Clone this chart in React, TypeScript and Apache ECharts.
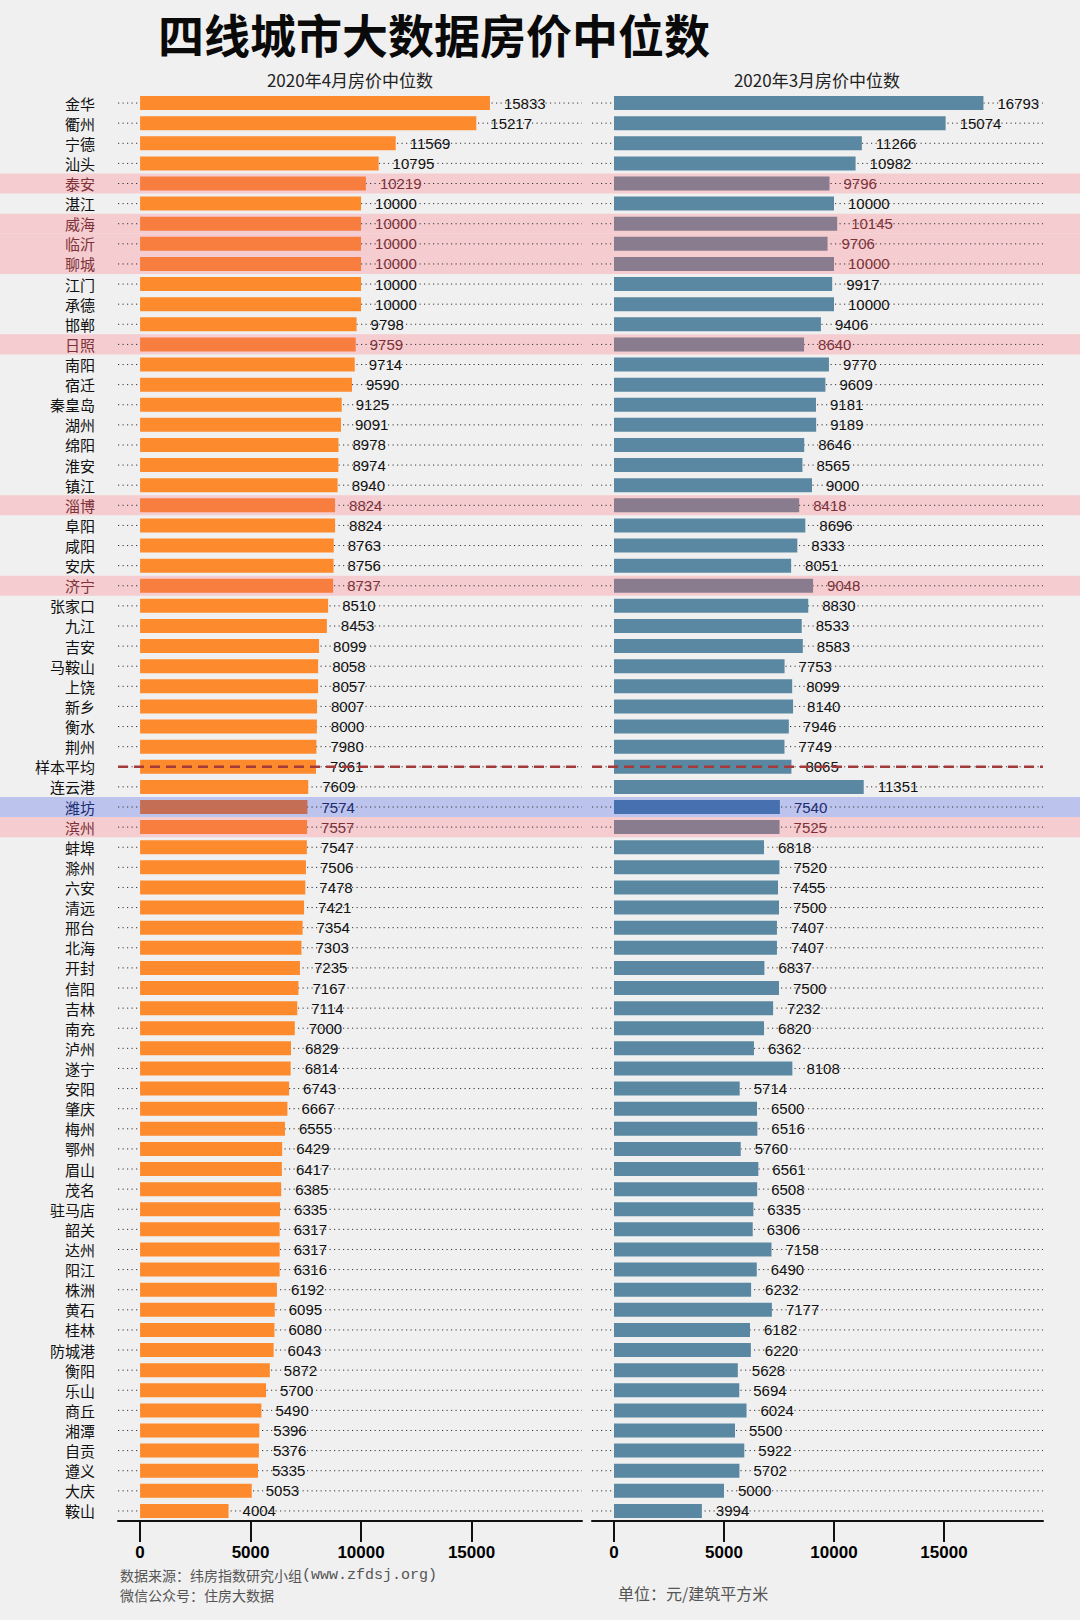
import React, { useEffect, useRef } from "react";
import * as echarts from "echarts";

const categories = [
  "金华", "衢州", "宁德", "汕头", "泰安", "湛江", "威海", "临沂", "聊城", "江门",
  "承德", "邯郸", "日照", "南阳", "宿迁", "秦皇岛", "湖州", "绵阳", "淮安", "镇江",
  "淄博", "阜阳", "咸阳", "安庆", "济宁", "张家口", "九江", "吉安", "马鞍山", "上饶",
  "新乡", "衡水", "荆州", "样本平均", "连云港", "潍坊", "滨州", "蚌埠", "滁州", "六安",
  "清远", "邢台", "北海", "开封", "信阳", "吉林", "南充", "泸州", "遂宁", "安阳",
  "肇庆", "梅州", "鄂州", "眉山", "茂名", "驻马店", "韶关", "达州", "阳江", "株洲",
  "黄石", "桂林", "防城港", "衡阳", "乐山", "商丘", "湘潭", "自贡", "遵义", "大庆",
  "鞍山",
];

const aprilValues = [
  15833, 15217, 11569, 10795, 10219, 10000, 10000, 10000, 10000, 10000,
  10000, 9798, 9759, 9714, 9590, 9125, 9091, 8978, 8974, 8940,
  8824, 8824, 8763, 8756, 8737, 8510, 8453, 8099, 8058, 8057,
  8007, 8000, 7980, 7961, 7609, 7574, 7557, 7547, 7506, 7478,
  7421, 7354, 7303, 7235, 7167, 7114, 7000, 6829, 6814, 6743,
  6667, 6555, 6429, 6417, 6385, 6335, 6317, 6317, 6316, 6192,
  6095, 6080, 6043, 5872, 5700, 5490, 5396, 5376, 5335, 5053,
  4004,
];

const marchValues = [
  16793, 15074, 11266, 10982, 9796, 10000, 10145, 9706, 10000, 9917,
  10000, 9406, 8640, 9770, 9609, 9181, 9189, 8646, 8565, 9000,
  8418, 8696, 8333, 8051, 9048, 8830, 8533, 8583, 7753, 8099,
  8140, 7946, 7749, 8065, 11351, 7540, 7525, 6818, 7520, 7455,
  7500, 7407, 7407, 6837, 7500, 7232, 6820, 6362, 8108, 5714,
  6500, 6516, 5760, 6561, 6508, 6335, 6306, 7158, 6490, 6232,
  7177, 6182, 6220, 5628, 5694, 6024, 5500, 5922, 5702, 5000,
  3994,
];

const pinkCities = ["泰安", "威海", "临沂", "聊城", "日照", "淄博", "济宁", "滨州"];
const blueCities = ["潍坊"];
const averageLabel = "样本平均";
const xTickValues = [0, 5000, 10000, 15000];

const titleText = "四线城市大数据房价中位数";
const leftTitle = "2020年4月房价中位数";
const rightTitle = "2020年3月房价中位数";
const sourceText = "数据来源：纬房指数研究小组";
const sourceUrl = "(www.zfdsj.org)";
const wechatText = "微信公众号：住房大数据";
const unitText = "单位：元/建筑平方米";

const LEFT_MIN = -1000;
const LEFT_MAX = 20000;
const RIGHT_MIN = -1000;
const RIGHT_MAX = 19500;

const C = {
  bg: "#F0F0F0",
  orange: "#FD8A2D",
  orangePink: "#F77E3F",
  orangeBlue: "#C46E55",
  steel: "#5A88A2",
  steelPink: "#897C8E",
  steelBlue: "#4670B0",
  pinkBand: "#F5CCD0",
  blueBand: "#BCC4EE",
  pinkText: "#7E3238",
  blueText: "#1E2C72",
  avgLine: "#A63A3A",
};

const SANS = "'Liberation Sans', Arial, 'Noto Sans CJK SC', sans-serif";
const CJK = "'Noto Sans CJK SC', 'Noto Sans', sans-serif";
const MONO = "'Liberation Mono', 'DejaVu Sans Mono', monospace";

function kindOf(name: string): number {
  if (pinkCities.includes(name)) return 0;
  if (blueCities.includes(name)) return 1;
  return -1;
}

function barData(values: number[], side: "left" | "right") {
  return values.map((v, i) => {
    const k = kindOf(categories[i]);
    if (k < 0) return v;
    const color =
      side === "left"
        ? k === 0 ? C.orangePink : C.orangeBlue
        : k === 0 ? C.steelPink : C.steelBlue;
    return {
      value: v,
      itemStyle: { color },
      label: { color: k === 0 ? C.pinkText : C.blueText },
    };
  });
}

const rowLine = (xMin: number, xMax: number) => (params: any, api: any) => {
  const idx = api.value(1);
  const a = api.coord([xMin, idx]);
  const b = api.coord([xMax, idx]);
  return {
    type: "line",
    silent: true,
    shape: { x1: a[0], y1: a[1], x2: b[0], y2: b[1] },
    style: { stroke: "#333", lineWidth: 1, lineDash: [1.2, 3.3] },
  };
};

const avgLine = (xMin: number, xMax: number) => (params: any, api: any) => {
  const idx = api.value(1);
  const a = api.coord([xMin, idx]);
  const b = api.coord([xMax, idx]);
  return {
    type: "line",
    silent: true,
    shape: { x1: a[0], y1: a[1], x2: b[0], y2: b[1] },
    style: { stroke: C.avgLine, lineWidth: 2.5, lineDash: [10, 6] },
  };
};

const bandItem = (params: any, api: any) => {
  const idx = api.value(1);
  const kind = api.value(2);
  const p = api.coord([0, idx]);
  const w = api.size([1, 0])[0];
  const h = api.size([0, 1])[1];
  return {
    type: "rect",
    silent: true,
    shape: { x: p[0], y: p[1] - h / 2, width: w, height: h },
    style: { fill: kind === 1 ? C.blueBand : C.pinkBand },
  };
};

function xAxisCfg(gridIndex: number, min: number, max: number) {
  return {
    type: "value",
    gridIndex,
    min,
    max,
    z: 4,
    axisLine: { show: true, lineStyle: { color: "#111", width: 2 } },
    axisTick: {
      show: true,
      customValues: xTickValues,
      length: 21,
      lineStyle: { color: "#111", width: 2 },
    },
    axisLabel: {
      show: true,
      customValues: xTickValues,
      formatter: (v: number) => String(v),
      margin: 23,
      fontSize: 17,
      lineHeight: 17,
      fontWeight: "bold",
      color: "#000",
      fontFamily: SANS,
    },
    splitLine: { show: false },
  };
}

function yAxisCfg(gridIndex: number, showLabels: boolean) {
  return {
    type: "category",
    gridIndex,
    data: categories,
    inverse: true,
    z: 6,
    axisLine: { show: false },
    axisTick: { show: false },
    splitLine: { show: false },
    axisLabel: showLabels
      ? {
          show: true,
          interval: 0,
          margin: 23,
          formatter: (v: string) => {
            const k = kindOf(v);
            return k === 0 ? `{p|${v}}` : k === 1 ? `{b|${v}}` : `{n|${v}}`;
          },
          rich: {
            n: { color: "#111", fontSize: 15, lineHeight: 16, fontFamily: CJK },
            p: { color: C.pinkText, fontSize: 15, lineHeight: 16, fontFamily: CJK },
            b: { color: C.blueText, fontSize: 15, lineHeight: 16, fontFamily: CJK },
          },
        }
      : { show: false },
  };
}

const barLabel = {
  show: true,
  position: "right",
  distance: 14,
  fontSize: 15,
  lineHeight: 15,
  color: "#111",
  fontFamily: SANS,
};

export default function App() {
  const ref = useRef<HTMLDivElement>(null);

  useEffect(() => {
    if (!ref.current) return;
    const chart = echarts.init(ref.current, null, { renderer: "svg" });
    const rowData = categories.map((c) => [0, c]);
    const bandData = categories
      .filter((c) => kindOf(c) >= 0)
      .map((c) => [0, c, kindOf(c)]);

    chart.setOption({
      animation: false,
      backgroundColor: C.bg,
      grid: [
        { left: 118, top: 93, width: 464, height: 1428 },
        { left: 592, top: 93, width: 451, height: 1428 },
        { left: 0, top: 93, width: 1080, height: 1428 },
      ],
      xAxis: [
        xAxisCfg(0, LEFT_MIN, LEFT_MAX),
        xAxisCfg(1, RIGHT_MIN, RIGHT_MAX),
        { type: "value", gridIndex: 2, min: 0, max: 1, show: false },
      ],
      yAxis: [yAxisCfg(0, true), yAxisCfg(1, false), yAxisCfg(2, false)],
      graphic: [
        {
          type: "text",
          x: 434,
          y: 33,
          style: {
            text: titleText,
            fontSize: 46,
            lineHeight: 46,
            fontWeight: "bold",
            fontFamily: CJK,
            fill: "#0a0a0a",
            textAlign: "center",
            textVerticalAlign: "middle",
          },
        },
        {
          type: "text",
          x: 350,
          y: 79,
          style: {
            text: leftTitle,
            fontSize: 17,
            lineHeight: 17,
            fontFamily: CJK,
            fill: "#222",
            textAlign: "center",
            textVerticalAlign: "middle",
          },
        },
        {
          type: "text",
          x: 817,
          y: 79,
          style: {
            text: rightTitle,
            fontSize: 17,
            lineHeight: 17,
            fontFamily: CJK,
            fill: "#222",
            textAlign: "center",
            textVerticalAlign: "middle",
          },
        },
        {
          type: "text",
          x: 120,
          y: 1575,
          style: {
            text: `{a|${sourceText}}{m|${sourceUrl}}`,
            rich: {
              a: { fontSize: 14, lineHeight: 14, fontFamily: CJK, fill: "#555", color: "#555" },
              m: { fontSize: 15, lineHeight: 14, fontFamily: MONO, fill: "#555", color: "#555" },
            },
            textVerticalAlign: "middle",
          },
        },
        {
          type: "text",
          x: 120,
          y: 1595,
          style: {
            text: wechatText,
            fontSize: 14,
            lineHeight: 14,
            fontFamily: CJK,
            fill: "#555",
            textVerticalAlign: "middle",
          },
        },
        {
          type: "text",
          x: 618,
          y: 1593,
          style: {
            text: unitText,
            fontSize: 16,
            fontFamily: CJK,
            fill: "#555",
            textVerticalAlign: "middle",
          },
        },
      ],
      series: [
        {
          type: "custom",
          name: "bands",
          xAxisIndex: 2,
          yAxisIndex: 2,
          z: 1,
          silent: true,
          encode: { x: 0, y: 1 },
          data: bandData,
          renderItem: bandItem,
        },
        {
          type: "custom",
          name: "dotsLeft",
          xAxisIndex: 0,
          yAxisIndex: 0,
          z: 2,
          silent: true,
          encode: { x: 0, y: 1 },
          data: rowData,
          renderItem: rowLine(LEFT_MIN, LEFT_MAX),
        },
        {
          type: "custom",
          name: "dotsRight",
          xAxisIndex: 1,
          yAxisIndex: 1,
          z: 2,
          silent: true,
          encode: { x: 0, y: 1 },
          data: rowData,
          renderItem: rowLine(RIGHT_MIN, RIGHT_MAX),
        },
        {
          type: "bar",
          name: leftTitle,
          xAxisIndex: 0,
          yAxisIndex: 0,
          z: 3,
          barWidth: 14,
          itemStyle: { color: C.orange },
          label: barLabel,
          data: barData(aprilValues, "left"),
        },
        {
          type: "bar",
          name: rightTitle,
          xAxisIndex: 1,
          yAxisIndex: 1,
          z: 3,
          barWidth: 14,
          itemStyle: { color: C.steel },
          label: barLabel,
          data: barData(marchValues, "right"),
        },
        {
          type: "custom",
          name: "avgLeft",
          xAxisIndex: 0,
          yAxisIndex: 0,
          z: 5,
          silent: true,
          encode: { x: 0, y: 1 },
          data: [[0, averageLabel]],
          renderItem: avgLine(LEFT_MIN, LEFT_MAX),
        },
        {
          type: "custom",
          name: "avgRight",
          xAxisIndex: 1,
          yAxisIndex: 1,
          z: 5,
          silent: true,
          encode: { x: 0, y: 1 },
          data: [[0, averageLabel]],
          renderItem: avgLine(RIGHT_MIN, RIGHT_MAX),
        },
      ],
    });

    return () => {
      chart.dispose();
    };
  }, []);

  return (
    <div
      ref={ref}
      style={{ position: "fixed", left: 0, top: 0, width: 1080, height: 1620 }}
    />
  );
}
